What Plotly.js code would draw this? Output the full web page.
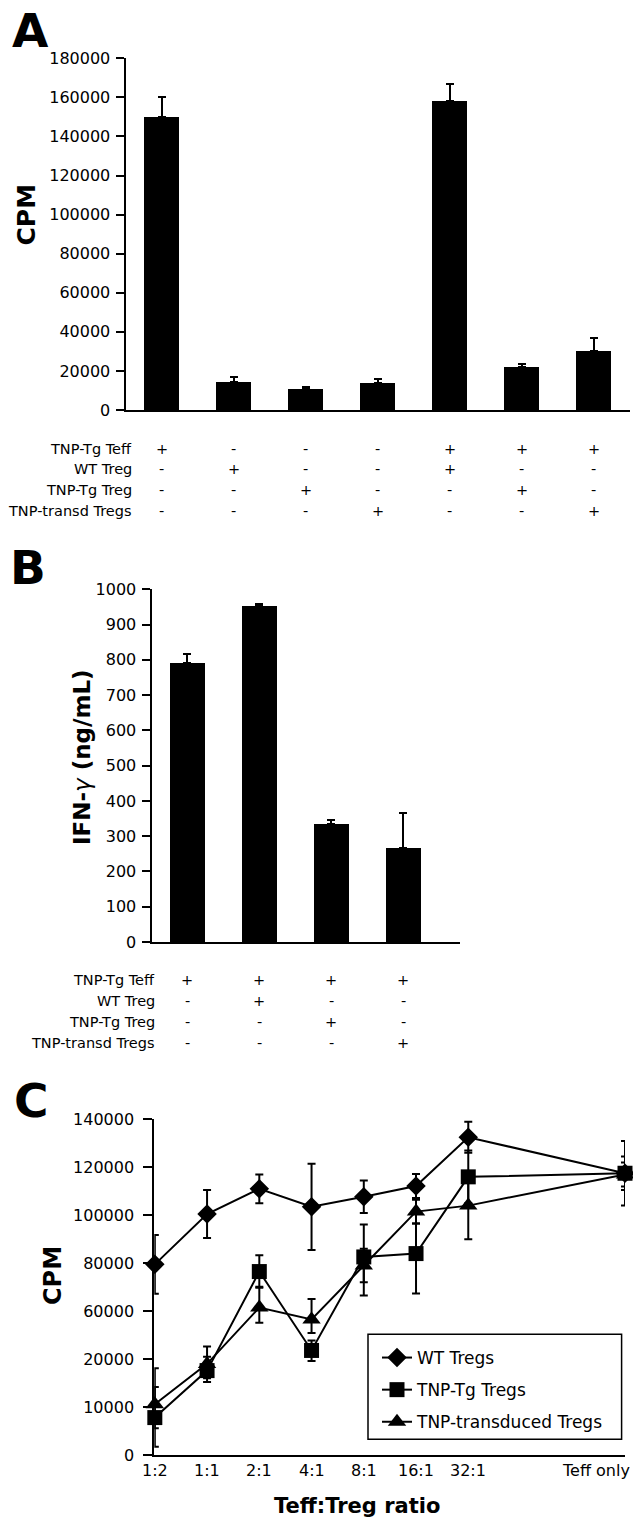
<!DOCTYPE html>
<html><head><meta charset="utf-8">
<script src="https://cdn.plot.ly/plotly-3.0.1.min.js"></script>
<style>html,body{margin:0;padding:0;background:#fff}</style>
</head><body><div id="chart" style="width:633px;height:1520px"></div>
<script>
// ---------- Panel A data ----------
const conditionsA = ['Teff','WT Treg','TNP-Tg Treg','TNP-transd Tregs','Teff + WT Treg','Teff + TNP-Tg Treg','Teff + TNP-transd Tregs'];
const cpmA = [150000, 14500, 10500, 14000, 158000, 22000, 30000];
const cpmErrA = [10000, 2500, 1500, 2000, 9000, 1500, 7000];
const tableRowsA = ['TNP-Tg Teff','WT Treg','TNP-Tg Treg','TNP-transd Tregs'];
const teffA   = ['+','-','-','-','+','+','+'];
const wtTregA = ['-','+','-','-','+','-','-'];
const tgTregA = ['-','-','+','-','-','+','-'];
const transdA = ['-','-','-','+','-','-','+'];
const yTicksA = [0,20000,40000,60000,80000,100000,120000,140000,160000,180000];

// ---------- Panel B data ----------
const conditionsB = ['Teff ','Teff + WT Treg ','Teff + TNP-Tg Treg ','Teff + TNP-transd Tregs '];
const ifnB = [792, 953, 334, 267];
const ifnErrB = [24, 6, 13, 98];
const tableRowsB = ['TNP-Tg Teff','WT Treg','TNP-Tg Treg','TNP-transd Tregs'];
const teffB   = ['+','+','+','+'];
const wtTregB = ['-','+','-','-'];
const tgTregB = ['-','-','+','-'];
const transdB = ['-','-','-','+'];
const yTicksB = [0,100,200,300,400,500,600,700,800,900,1000];

// ---------- Panel C data ----------
const ratiosC = ['1:2','1:1','2:1','4:1','8:1','16:1','32:1','Teff only'];
const wtC        = [79500, 100500, 111000, 103500, 107700, 112200, 132500, 117500];
const wtErrC     = [12300, 10000, 6000, 18000, 6800, 5000, 6500, 7000];
const tgC        = [7800, 17600, 76500, 27200, 82600, 84000, 116000, 117500];
const tgErrPlusC = [6400, 4400, 6800, 8400, 13500, 12500, 11000, 13500];
const tgErrMinC  = [6100, 2400, 6800, 7600, 16100, 16700, 11000, 13500];
const trC        = [10600, 19000, 61500, 53000, 79000, 101500, 104000, 117000];
const trErrPlusC = [7500, 11600, 8700, 12100, 7000, 5000, 14000, 5000];
const trErrMinC  = [5000, 3000, 11200, 11200, 7000, 5000, 14000, 5000];
const yTicksC = [0,10000,20000,60000,80000,100000,120000,140000];
const seriesNamesC = ['WT Tregs','TNP-Tg Tregs','TNP-transduced Tregs'];

// ---------- helpers ----------
const W = 633, H = 1520;
const FONT = 'DejaVu Sans';
const px = x => x / W;
const py = y => 1 - y / H;
// broken (piecewise-linear) y scale of panel C: equal spacing between ticks
function cPos(v) {
  const t = yTicksC;
  if (v <= t[0]) return (v - t[0]) / (t[1] - t[0]);
  for (let i = 0; i < t.length - 1; i++) {
    if (v <= t[i + 1]) return i + (v - t[i]) / (t[i + 1] - t[i]);
  }
  const n = t.length - 1;
  return n + (v - t[n]) / (t[n] - t[n - 1]);
}
const cCats = ratiosC.slice(0, 7).concat(['\u2002', '\u2002\u2002', ratiosC[7]]);

const baseFont = {family: FONT, size: 16, color: '#000000'};
const axLine = {showline: true, linecolor: 'black', linewidth: 2, zeroline: false, showgrid: false, fixedrange: true};
const yTickStyle = {ticks: 'outside', ticklen: 8, tickwidth: 2, tickcolor: 'black', tickfont: baseFont, tickmode: 'array'};

const traces = [];
traces.push({
  type: 'bar', x: conditionsA, y: cpmA, xaxis: 'x', yaxis: 'y', width: 0.49,
  marker: {color: 'black', line: {width: 0}}, showlegend: false, hoverinfo: 'skip',
  error_y: {type: 'data', symmetric: false, array: cpmErrA, arrayminus: cpmA.map(() => 0), color: 'black', thickness: 2, width: 4}
});
traces.push({
  type: 'bar', x: conditionsB, y: ifnB, xaxis: 'x2', yaxis: 'y2', width: 0.49,
  marker: {color: 'black', line: {width: 0}}, showlegend: false, hoverinfo: 'skip',
  error_y: {type: 'data', symmetric: false, array: ifnErrB, arrayminus: ifnB.map(() => 0), color: 'black', thickness: 2, width: 4}
});
function cTrace(name, vals, plus, minus, symbol, size, group) {
  return {
    type: 'scatter', mode: 'lines+markers', name: name, legendgroup: group,
    x: ratiosC, y: vals.map(cPos), xaxis: 'x3', yaxis: 'y3', cliponaxis: false,
    line: {color: 'black', width: 2},
    marker: {symbol: symbol, size: size, color: 'black'},
    error_y: {type: 'data', symmetric: false,
      array: vals.map((v, i) => cPos(v + plus[i]) - cPos(v)),
      arrayminus: vals.map((v, i) => cPos(v) - cPos(v - minus[i])),
      color: 'black', thickness: 2, width: 4},
    hoverinfo: 'skip'
  };
}
traces.push(cTrace(seriesNamesC[0], wtC, wtErrC, wtErrC, 'diamond', 15, 'g1'));
traces.push(cTrace(seriesNamesC[1], tgC, tgErrPlusC, tgErrMinC, 'square', 15, 'g2'));
traces.push(cTrace(seriesNamesC[2], trC, trErrPlusC, trErrMinC, 'triangle-up', 16, 'g3'));

// ---------- annotations ----------
const ann = [];
function letter(t, x, y) {
  ann.push({text: '<b>' + t + '</b>', xref: 'paper', yref: 'paper', x: px(x), y: py(y), xanchor: 'left', yanchor: 'middle',
    showarrow: false, font: {family: FONT, size: 47, color: '#000000'}});
}
letter('A', 10, 30);
letter('B', 8, 567.5);
letter('C', 12, 1100.5);

function vTitle(t, x, y, size) {
  ann.push({text: t, xref: 'paper', yref: 'paper', x: px(x), y: py(y), xanchor: 'center', yanchor: 'middle', textangle: -90,
    showarrow: false, font: {family: FONT, size: size, color: '#000000'}});
}
vTitle('<b>CPM</b>', 26, 214.5, 25);
vTitle('<b>IFN-</b><i>γ</i><b> (ng/mL)</b>', 82, 757, 23);
vTitle('<b>CPM</b>', 53, 1276, 24);
ann.push({text: '<b>Teff:Treg ratio</b>', xref: 'paper', yref: 'paper', x: px(357), y: py(1505.5), xanchor: 'center', yanchor: 'middle',
  showarrow: false, font: {family: FONT, size: 21, color: '#000000'}});

function table(rows, signs, cats, xref, labelRight, rowY) {
  rows.forEach((r, i) => {
    ann.push({text: r, xref: 'paper', yref: 'paper', x: px(labelRight), y: py(rowY[i]), xanchor: 'right', yanchor: 'middle',
      showarrow: false, font: {family: FONT, size: 14.5, color: '#000000'}});
    signs[i].forEach((s, j) => {
      ann.push({text: s, xref: xref, yref: 'paper', x: cats[j], y: py(rowY[i]), xanchor: 'center', yanchor: 'middle',
        showarrow: false, font: {family: FONT, size: 14.5, color: '#000000'}});
    });
  });
}
table(tableRowsA, [teffA, wtTregA, tgTregA, transdA], conditionsA, 'x', 134, [449, 469.3, 490, 510.7]);
table(tableRowsB, [teffB, wtTregB, tgTregB, transdB], conditionsB, 'x2', 157, [980, 1001, 1022.3, 1043.3]);

// panel C category labels
ratiosC.forEach((r, i) => {
  const last = i === ratiosC.length - 1;
  ann.push({text: r, xref: 'x3', yref: 'paper', x: r, y: py(1470), xanchor: last ? 'right' : 'center', yanchor: 'middle',
    xshift: last ? 7 : 0, showarrow: false, font: baseFont});
});

const layout = {
  width: W, height: H, autosize: false,
  margin: {l: 0, r: 0, t: 0, b: 0, pad: 0},
  paper_bgcolor: 'white', plot_bgcolor: 'white',
  font: baseFont,
  bargap: 0,
  xaxis: Object.assign({}, axLine, {domain: [px(125.5), px(629.5)], type: 'category', categoryorder: 'array', categoryarray: conditionsA,
    range: [-0.5, 6.5], showticklabels: false, ticks: '', anchor: 'y'}),
  yaxis: Object.assign({}, axLine, yTickStyle, {domain: [py(410), py(58.3)], range: [0, 180000],
    tickvals: yTicksA, ticktext: yTicksA.map(String), ticklabelstandoff: 2, anchor: 'x'}),
  xaxis2: Object.assign({}, axLine, {domain: [px(151.5), px(459.5)], type: 'category', categoryorder: 'array', categoryarray: conditionsB,
    range: [-0.5, 3.78], showticklabels: false, ticks: '', anchor: 'y2'}),
  yaxis2: Object.assign({}, axLine, yTickStyle, {domain: [py(942), py(589.3)], range: [0, 1000],
    tickvals: yTicksB, ticktext: yTicksB.map(String), ticklabelstandoff: 2, anchor: 'x2'}),
  xaxis3: Object.assign({}, axLine, {domain: [px(154.3), px(625)], type: 'category', categoryorder: 'array', categoryarray: cCats,
    range: [-0.01, 9], showticklabels: false, ticks: '', anchor: 'y3'}),
  yaxis3: Object.assign({}, axLine, yTickStyle, {domain: [py(1455), py(1119.3)], range: [0, 7], ticklen: 9,
    tickvals: yTicksC.map(cPos), ticktext: yTicksC.map(String), ticklabelstandoff: 6, anchor: 'x3'}),
  showlegend: true,
  legend: {x: px(377), y: py(1340), xanchor: 'left', yanchor: 'top', bgcolor: 'rgba(0,0,0,0)', borderwidth: 0,
    font: {family: FONT, size: 17, color: '#000000'}, traceorder: 'grouped', tracegroupgap: 7},
  shapes: [{type: 'rect', xref: 'paper', yref: 'paper', x0: px(368), x1: px(621.6), y0: py(1439.3), y1: py(1334.3),
    line: {color: 'black', width: 1.5}, fillcolor: 'white', layer: 'below'}],
  annotations: ann
};

Plotly.newPlot('chart', traces, layout, {staticPlot: true, displayModeBar: false});
</script></body></html>
